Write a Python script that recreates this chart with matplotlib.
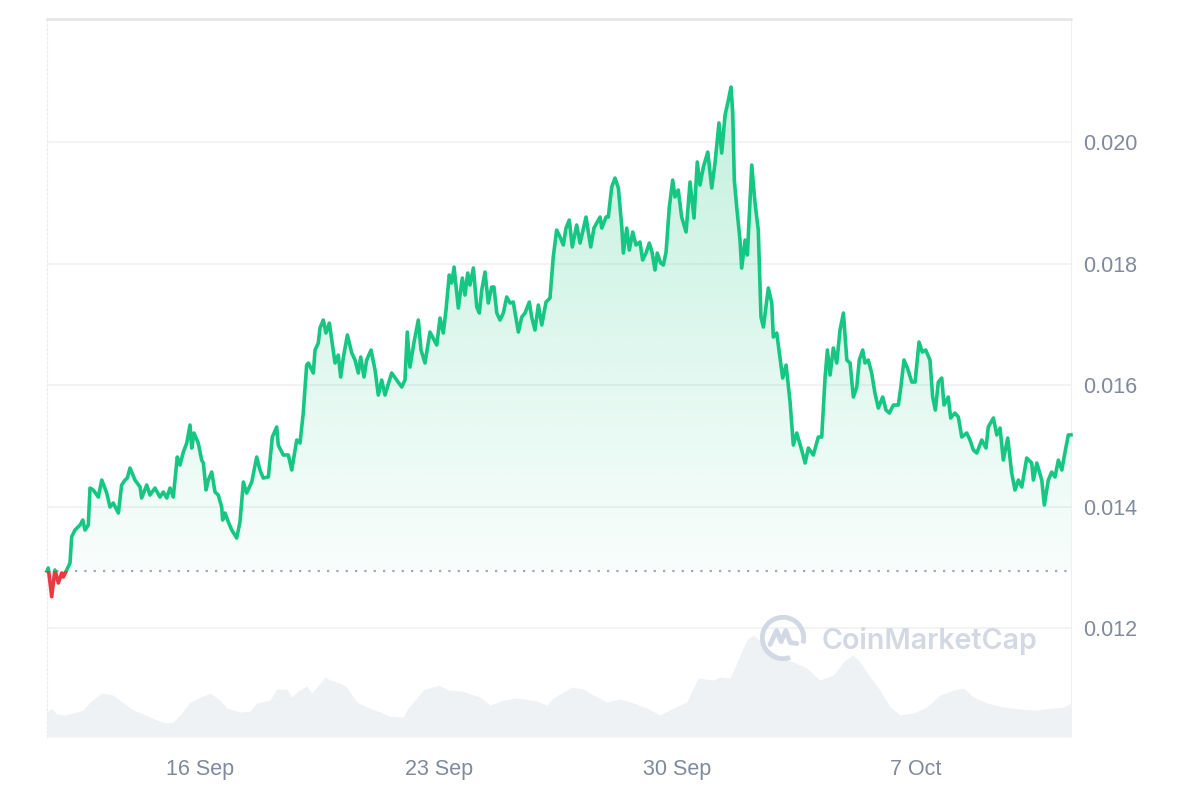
import numpy as np
import pandas as pd
import matplotlib
matplotlib.use("Agg")
import matplotlib.pyplot as plt
import matplotlib.dates as mdates
from matplotlib.path import Path
from matplotlib.patches import Rectangle, PathPatch, Arc
from matplotlib.colors import to_rgb

plt.rcParams['font.family'] = ['Liberation Sans', 'DejaVu Sans']

# price series, hours after start
start = pd.Timestamp("2024-09-11 12:00")
hours = [
    0, 0.9, 3.3, 5.6, 8.0, 10.4, 11.5, 13.9, 16.2, 17.4,
    19.7, 23.3, 25.2, 26.8, 29.1, 30.3, 32.6, 36.2, 38.6, 42.1,
    44.4, 46.7, 50.3, 52.6, 55.0, 56.6, 58.5, 62.0, 65.6, 66.7,
    70.3, 72.6, 76.1, 79.6, 82.0, 84.4, 86.7, 89.0, 91.8, 93.7,
    96.1, 98.5, 100.8, 102.0, 103.6, 106.6, 109.0, 110.2, 112.1, 113.7,
    116.1, 118.4, 120.7, 123.1, 123.8, 125.5, 127.8, 130.2, 133.7, 136.0,
    138.4, 140.7, 144.3, 147.8, 150.1, 152.4, 156.0, 158.8, 161.9, 163.0,
    166.5, 170.1, 172.5, 176.0, 178.3, 180.6, 183.0, 184.2, 187.7, 188.9,
    191.2, 192.4, 194.7, 196.6, 199.0, 200.7, 203.0, 205.3, 207.0, 208.8,
    211.7, 214.8, 217.1, 219.4, 221.1, 223.4, 225.3, 228.4, 231.2, 233.5,
    235.9, 238.2, 242.9, 246.5, 250.0, 252.3, 253.9, 255.8, 258.7, 261.7,
    263.6, 266.4, 269.9, 274.7, 277.0, 279.3, 281.2, 283.5, 285.2, 286.9,
    289.9, 292.7, 294.6, 296.5, 298.1, 300.5, 302.9, 304.7, 306.4, 308.7,
    311.0, 313.4, 315.0, 317.0, 319.3, 321.6, 324.0, 326.3, 328.6, 332.2,
    334.6, 336.9, 339.9, 341.6, 343.9, 346.3, 348.7, 351.7, 354.5, 356.8,
    359.2, 361.6, 363.9, 365.8, 368.1, 370.2, 373.3, 375.7, 379.9, 383.2,
    385.5, 389.8, 391.0, 394.0, 395.6, 398.0, 400.3, 402.7, 405.1, 406.2,
    408.6, 410.4, 412.8, 415.1, 417.9, 419.8, 422.2, 424.5, 426.4, 428.5,
    430.1, 432.5, 434.4, 436.3, 438.6, 441.0, 442.6, 444.9, 447.3, 450.4,
    453.2, 456.0, 458.3, 460.2, 462.6, 465.7, 468.5, 470.8, 473.6, 475.5,
    477.9, 480.2, 482.1, 483.3, 484.4, 486.1, 488.4, 489.6, 492.0, 493.6,
    496.7, 499.0, 501.3, 503.2, 504.9, 508.4, 510.8, 511.9, 514.3, 517.1,
    518.5, 520.9, 523.7, 526.0, 528.4, 531.9, 534.3, 536.6, 540.1, 543.6,
    546.0, 548.4, 550.0, 551.9, 554.2, 556.6, 558.9, 561.3, 563.7, 566.0,
    568.3, 570.7, 572.5, 574.9, 576.5, 578.8, 581.2, 583.5, 585.9, 589.0,
    591.3, 593.7, 596.5, 600.0, 601.7, 604.0, 606.4, 609.5, 611.8, 614.6,
    616.9, 619.3, 622.3, 624.2, 626.1, 628.2, 630.6, 632.2, 635.2, 636.9,
    639.9, 642.3, 644.7, 648.2, 650.5, 652.9, 655.3, 658.8, 661.8, 663.4,
    667.0, 669.4, 671.7, 674.0, 677.1, 679.9, 682.2, 684.6, 687.0, 690.5,
    694.0, 695.2, 697.6, 701.1, 702.9, 705.7, 708.1, 710.4, 712.8, 715.2,
    717.5, 719.8, 721.7,
]
price = [
    0.01294, 0.012988, 0.012515, 0.012955, 0.012741, 0.012905, 0.012839, 0.012955, 0.01307, 0.013503,
    0.013613, 0.013695, 0.013778, 0.013613, 0.013695, 0.014304, 0.014272, 0.014156, 0.014436, 0.014222,
    0.013992, 0.014058, 0.013893, 0.014354, 0.014436, 0.014469, 0.014634, 0.014436, 0.014321, 0.01414,
    0.014354, 0.014189, 0.014304, 0.014156, 0.014239, 0.01414, 0.014304, 0.014156, 0.014815, 0.014683,
    0.014897, 0.015045, 0.015342, 0.014963, 0.01521, 0.015045, 0.014765, 0.014716, 0.014272, 0.014436,
    0.014568, 0.014239, 0.014189, 0.013992, 0.013778, 0.013893, 0.013745, 0.013613, 0.013481, 0.013745,
    0.014403, 0.014222, 0.014403, 0.014815, 0.014601, 0.014469, 0.014486, 0.015144, 0.015309, 0.015012,
    0.014848, 0.014848, 0.014601, 0.015095, 0.015045, 0.015539, 0.016329, 0.016362, 0.016198, 0.016576,
    0.016691, 0.016938, 0.01707, 0.016856, 0.01702, 0.016741, 0.016362, 0.016494, 0.016132, 0.016444,
    0.016823, 0.016527, 0.016412, 0.016198, 0.016461, 0.016132, 0.016412, 0.016576, 0.016247, 0.015835,
    0.016082, 0.015835, 0.016198, 0.016082, 0.015967, 0.016082, 0.016872, 0.016296, 0.016708, 0.01707,
    0.016576, 0.016362, 0.016872, 0.016658, 0.017103, 0.016856, 0.017235, 0.017811, 0.017679, 0.017942,
    0.017267, 0.017761, 0.017481, 0.017844, 0.017646, 0.017926, 0.017284, 0.017185, 0.017564, 0.01786,
    0.01735, 0.017613, 0.017613, 0.017185, 0.01707, 0.017185, 0.017449, 0.01735, 0.017366, 0.016872,
    0.017119, 0.017185, 0.017366, 0.017119, 0.016905, 0.017317, 0.016988, 0.017366, 0.017432, 0.018107,
    0.018551, 0.018436, 0.018305, 0.018584, 0.018716, 0.018272, 0.018634, 0.018337, 0.018765, 0.018272,
    0.018584, 0.018765, 0.018584, 0.018765, 0.018765, 0.019259, 0.019407, 0.019243, 0.018601, 0.018173,
    0.018584, 0.018222, 0.018519, 0.018305, 0.018354, 0.018058, 0.018173, 0.018337, 0.018189, 0.017893,
    0.018173, 0.018008, 0.017975, 0.018189, 0.01893, 0.019374, 0.019095, 0.01921, 0.018765, 0.018519,
    0.019342, 0.018749, 0.019671, 0.019292, 0.019588, 0.019835, 0.019243, 0.019654, 0.020313, 0.019819,
    0.020444, 0.020691, 0.020905, 0.020477, 0.019374, 0.01893, 0.018387, 0.017926, 0.018387, 0.01814,
    0.019621, 0.018996, 0.018551, 0.017119, 0.016955, 0.017597, 0.01735, 0.01679, 0.016856, 0.016362,
    0.016115, 0.016329, 0.01572, 0.015012, 0.01521, 0.01493, 0.014716, 0.014963, 0.014848, 0.015144,
    0.015144, 0.016132, 0.016576, 0.016165, 0.016609, 0.016362, 0.016905, 0.017185, 0.016412, 0.016362,
    0.015802, 0.015967, 0.016412, 0.016576, 0.016362, 0.016412, 0.016198, 0.015868, 0.015621, 0.015802,
    0.015588, 0.015539, 0.015671, 0.015671, 0.015951, 0.016412, 0.01628, 0.016049, 0.016049, 0.016708,
    0.016543, 0.016576, 0.016412, 0.015802, 0.015588, 0.016049, 0.016115, 0.015671, 0.015802, 0.015457,
    0.015539, 0.015473, 0.015144, 0.01521, 0.015095, 0.01493, 0.014881, 0.015095, 0.014963, 0.015309,
    0.015457, 0.015177, 0.015292, 0.014765, 0.015128, 0.014551, 0.014272, 0.014436, 0.014321, 0.014798,
    0.014716, 0.014436, 0.014716, 0.014436, 0.014025, 0.014436, 0.014568, 0.014486, 0.014765, 0.014601,
    0.014897, 0.015177, 0.01518,
]

# volume (relative units), hours after start
vol_hours = [
    0, 3.3, 6.8, 12.7, 18.5, 25.6, 30.3, 38.6, 46.7, 53.8,
    60.8, 67.9, 77.3, 84.4, 89.0, 93.7, 100.8, 114.9, 121.9, 126.7,
    136.0, 143.1, 147.8, 157.2, 161.9, 168.9, 172.5, 177.1, 183.0, 186.6,
    190.1, 195.9, 199.5, 206.5, 211.2, 218.3, 225.3, 234.7, 241.7, 251.1,
    253.5, 260.6, 265.2, 275.8, 282.8, 292.3, 305.2, 312.2, 321.6, 331.0,
    345.1, 352.2, 356.8, 363.9, 369.8, 378.0, 385.0, 394.5, 403.9, 413.2,
    422.7, 432.0, 441.4, 450.9, 455.5, 459.0, 469.6, 474.3, 481.4, 486.1,
    493.1, 497.8, 507.2, 516.6, 526.0, 535.4, 544.8, 554.2, 562.4, 568.3,
    573.0, 580.1, 587.1, 594.2, 601.2, 610.6, 620.0, 629.4, 638.8, 645.8,
    652.9, 662.3, 674.0, 685.8, 697.5, 709.2, 716.3, 721.7,
]
volume = [
    25, 29, 23, 22, 24, 27, 35, 44, 42, 34,
    27, 23, 17, 14, 15, 22, 35, 44, 37, 29,
    25, 26, 34, 37, 48, 48, 40, 46, 51, 44,
    50, 60, 57, 54, 50, 35, 30, 25, 21, 20,
    27, 39, 47, 52, 47, 46, 40, 32, 37, 39,
    36, 32, 39, 45, 50, 48, 42, 35, 38, 34,
    29, 22, 29, 35, 49, 59, 57, 60, 59, 74,
    97, 102, 90, 80, 75, 69, 57, 62, 77, 82,
    75, 60, 47, 30, 22, 24, 30, 42, 47, 49,
    40, 34, 30, 28, 27, 29, 30, 34,
]

open_price = 0.01294
price_ticks = [0.012, 0.014, 0.016, 0.018, 0.020]
tick_days = ["2024-09-16", "2024-09-23", "2024-09-30", "2024-10-07"]
tick_labels = ["16 Sep", "23 Sep", "30 Sep", "7 Oct"]

green = "#16c784"
red = "#ea3943"
grey_txt = "#808a9d"
mark = "#d3d9e4"

t = mdates.date2num(start + pd.to_timedelta(hours, unit="h"))
tv = mdates.date2num(start + pd.to_timedelta(vol_hours, unit="h"))
p = np.array(price)

fig = plt.figure(figsize=(12, 8), dpi=100)
rect = [47 / 1200, 63 / 800, 1024 / 1200, 718 / 800]

# volume underneath
axv = fig.add_axes(rect)
axv.fill_between(tv, volume, 0, color="#eff2f5", lw=0)
axv.set_xlim(t[0], t[-1])
axv.set_ylim(0, 718)
axv.axis("off")

ax = fig.add_axes(rect)
ax.set_facecolor("none")
ymin, ymax = 0.010206, 0.022025

# green gradient fill above open
upper = np.maximum(p, open_price)
vx = np.r_[t[0], t, t[-1], t[0]]
vy = np.r_[open_price, upper, open_price, open_price]
clip = PathPatch(Path(np.column_stack([vx, vy]), closed=True),
                 transform=ax.transData, facecolor="none", edgecolor="none")
ax.add_patch(clip)
n = 256
grad = np.zeros((n, 1, 4))
grad[..., :3] = to_rgb(green)
grad[:, 0, 3] = np.linspace(0.03, 0.26, n)
im = ax.imshow(grad, extent=[t[0], t[-1], open_price, p.max()], origin="lower",
               aspect="auto", interpolation="bilinear", zorder=1)
im.set_clip_path(clip)

# red fill below open
ax.fill_between(t, np.minimum(p, open_price), open_price, color=red, alpha=0.12, lw=0, zorder=1)

w = t[-1] - t[0]
lg, = ax.plot(t, p, color=green, lw=2.6, zorder=3, solid_joinstyle="round")
lg.set_clip_path(Rectangle((t[0] - 1, open_price), w + 2, 1, transform=ax.transData))
lr, = ax.plot(t, p, color=red, lw=2.6, zorder=3, solid_joinstyle="round")
lr.set_clip_path(Rectangle((t[0] - 1, 0), w + 2, open_price, transform=ax.transData))

ax.axhline(open_price, color="#a1a7bb", lw=1.6, ls=(0, (1, 3.2)), zorder=2)

ax.set_xlim(t[0], t[-1])
ax.set_ylim(ymin, ymax)

ax.set_yticks(price_ticks)
ax.set_yticklabels([f"{v:.3f}" for v in price_ticks])
ax.yaxis.tick_right()
ax.tick_params(axis="y", length=0, pad=8.5, labelsize=15.5, labelcolor=grey_txt)
ax.set_xticks(mdates.date2num(pd.to_datetime(tick_days)))
ax.set_xticklabels(tick_labels)
ax.tick_params(axis="x", length=0, pad=16, labelsize=15.5, labelcolor=grey_txt)
ax.grid(axis="y", color="#eff1f4", lw=1.2)
ax.set_axisbelow(True)

ax.spines["bottom"].set_visible(False)
ax.spines["top"].set_color("#e3e4e7")
ax.spines["top"].set_linewidth(1.8)
ax.spines["left"].set_color("#ececec")
ax.spines["left"].set_linestyle((0, (2, 2)))
ax.spines["right"].set_color("#f0f0f2")

# watermark
fig.text(822 / 1200, 1 - 641 / 800, "CoinMarketCap", ha="left", va="center",
         fontsize=20.6, fontweight="semibold", color=mark, family=["Inter", "DejaVu Sans"])
logo = fig.add_axes([760 / 1200, 1 - 661 / 800, 46 / 1200, 46 / 800])
logo.set_xlim(0, 1)
logo.set_ylim(0, 1)
logo.axis("off")
logo.add_patch(Arc((0.5, 0.5), 0.9, 0.9, theta1=-15, theta2=290, lw=3.5, color=mark))
logo.plot([0.22, 0.36, 0.46, 0.56, 0.66, 0.8], [0.36, 0.66, 0.42, 0.66, 0.40, 0.38],
          color=mark, lw=3.5, solid_joinstyle="round", solid_capstyle="round")

fig.savefig("out.png", dpi=100)
